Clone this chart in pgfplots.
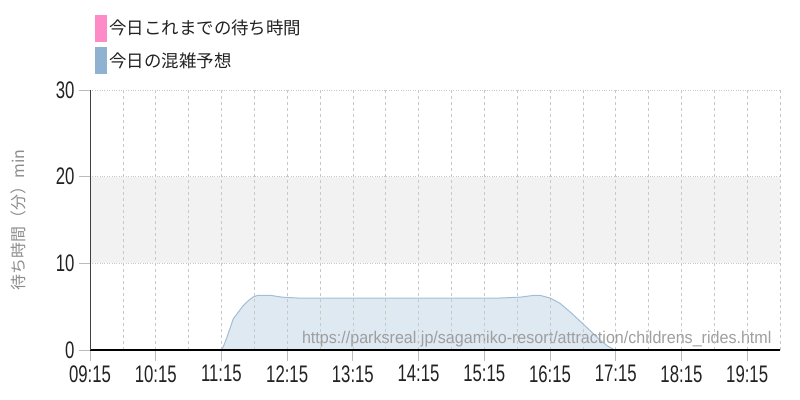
\documentclass[border=0pt]{standalone}
\usepackage{fontspec}
\setmainfont{Noto Sans CJK JP}
\newfontfamily\cond[FakeStretch=0.7]{Liberation Sans}
\newfontfamily\urlfont[FakeStretch=0.95]{Liberation Sans}
\usepackage{pgfplots}
\pgfplotsset{compat=1.18}
\definecolor{pinkc}{HTML}{FF8AC8}
\definecolor{bluec}{HTML}{8FB2D0}
\definecolor{areafill}{HTML}{DFE9F2}
\definecolor{arealine}{HTML}{A2BDD6}
\definecolor{bandc}{HTML}{F2F2F2}
\definecolor{gridc}{HTML}{C8C8C8}
\definecolor{tickc}{HTML}{BBBBBB}
\definecolor{txt}{HTML}{222222}

\pgfplotstableread{
t v
9.25 0
10.6 0
10.8 -0.1
10.9 -0.2
11.15 -0.2
11.25 0
11.29 0.6
11.34 1.6
11.43 3.6
11.5 4.3
11.58 5.1
11.66 5.7
11.73 6.1
11.8 6.3
12.0 6.3
12.17 6.1
12.4 6.0
15.5 6.0
15.8 6.1
16.0 6.3
16.1 6.3
16.25 6.0
16.4 5.4
16.57 4.3
16.74 3.1
16.88 2.1
17.01 1.15
17.12 0.5
17.21 0.1
17.25 0
17.35 -0.2
17.6 -0.2
17.75 0
19.75 0
}\forecast

\begin{document}
\begin{tikzpicture}
\begin{axis}[
  scale only axis,
  width=690bp, height=260bp,
  xmin=9.25, xmax=19.75,
  ymin=0, ymax=30,
  axis on top,
  axis x line*=bottom,
  axis y line*=left,
  x axis line style={black, line width=1.2bp, -},
  y axis line style={black!75, line width=0.8bp, -},
  xtick={9.25,10.25,...,19.25},
  xticklabels={09:15,10:15,11:15,12:15,13:15,14:15,15:15,16:15,17:15,18:15,19:15},
  minor xtick={9.75,10.75,...,19.75},
  ytick={0,10,20,30},
  yticklabels={0,10,20,30},
  tick align=outside,
  major tick length=11bp,
  minor tick length=0bp,
  every tick/.style={tickc, line width=0.8bp},
  xmajorgrids, xminorgrids, ymajorgrids,
  every axis x grid/.style={gridc, dashed, line width=0.6bp},
  every axis y grid/.style={gridc, dotted, line width=0.7bp},
  ticklabel style={font=\cond\fontsize{24}{24}\selectfont, text=txt},
  xticklabel style={yshift=-1bp},
  yticklabel style={xshift=-1bp},
  ylabel={待ち時間（分）min},
  ylabel style={at={(axis description cs:-0.104,0.5)}, anchor=center,
    font=\fontsize{16}{16}\selectfont, text=black!45},
  legend style={at={(axis description cs:0.007,1.29)}, anchor=north west,
    draw=none, fill=none, inner sep=0pt, row sep=6bp,
    font=\fontsize{17.5}{17.5}\selectfont, text=txt,
    nodes={inner xsep=3bp, inner ysep=0pt}},
  legend cell align=left,
]
\addplot[draw=none, fill=bandc, forget plot] coordinates {(9.25,10) (19.75,10) (19.75,20) (9.25,20)} -- cycle;
\addplot[draw=arealine, line width=1bp, fill=areafill, forget plot] table[x=t, y=v] {\forecast} \closedcycle;
\addlegendimage{legend image code/.code={\fill[pinkc] (0bp,-13bp) rectangle (11bp,13bp);}}
\addlegendentry{今日これまでの待ち時間}
\addlegendimage{legend image code/.code={\fill[bluec] (0bp,-13bp) rectangle (11bp,13bp);}}
\addlegendentry{今日の混雑予想}
\node[anchor=base east, font=\fontsize{15}{15}\selectfont, text=black!55] at (rel axis cs:1,1) [xshift=-2bp, yshift=7bp] {こども乗物};
\node[anchor=base east, font=\urlfont\fontsize{17}{17}\selectfont, text=black!38] at (rel axis cs:1,0) [xshift=-5bp, yshift=7bp] {https://parksreal.jp/sagamiko-resort/attraction/childrens\_rides.html};
\end{axis}
\path[use as bounding box] (-90bp,-50bp) rectangle (710bp,350bp);
\end{tikzpicture}
\end{document}
